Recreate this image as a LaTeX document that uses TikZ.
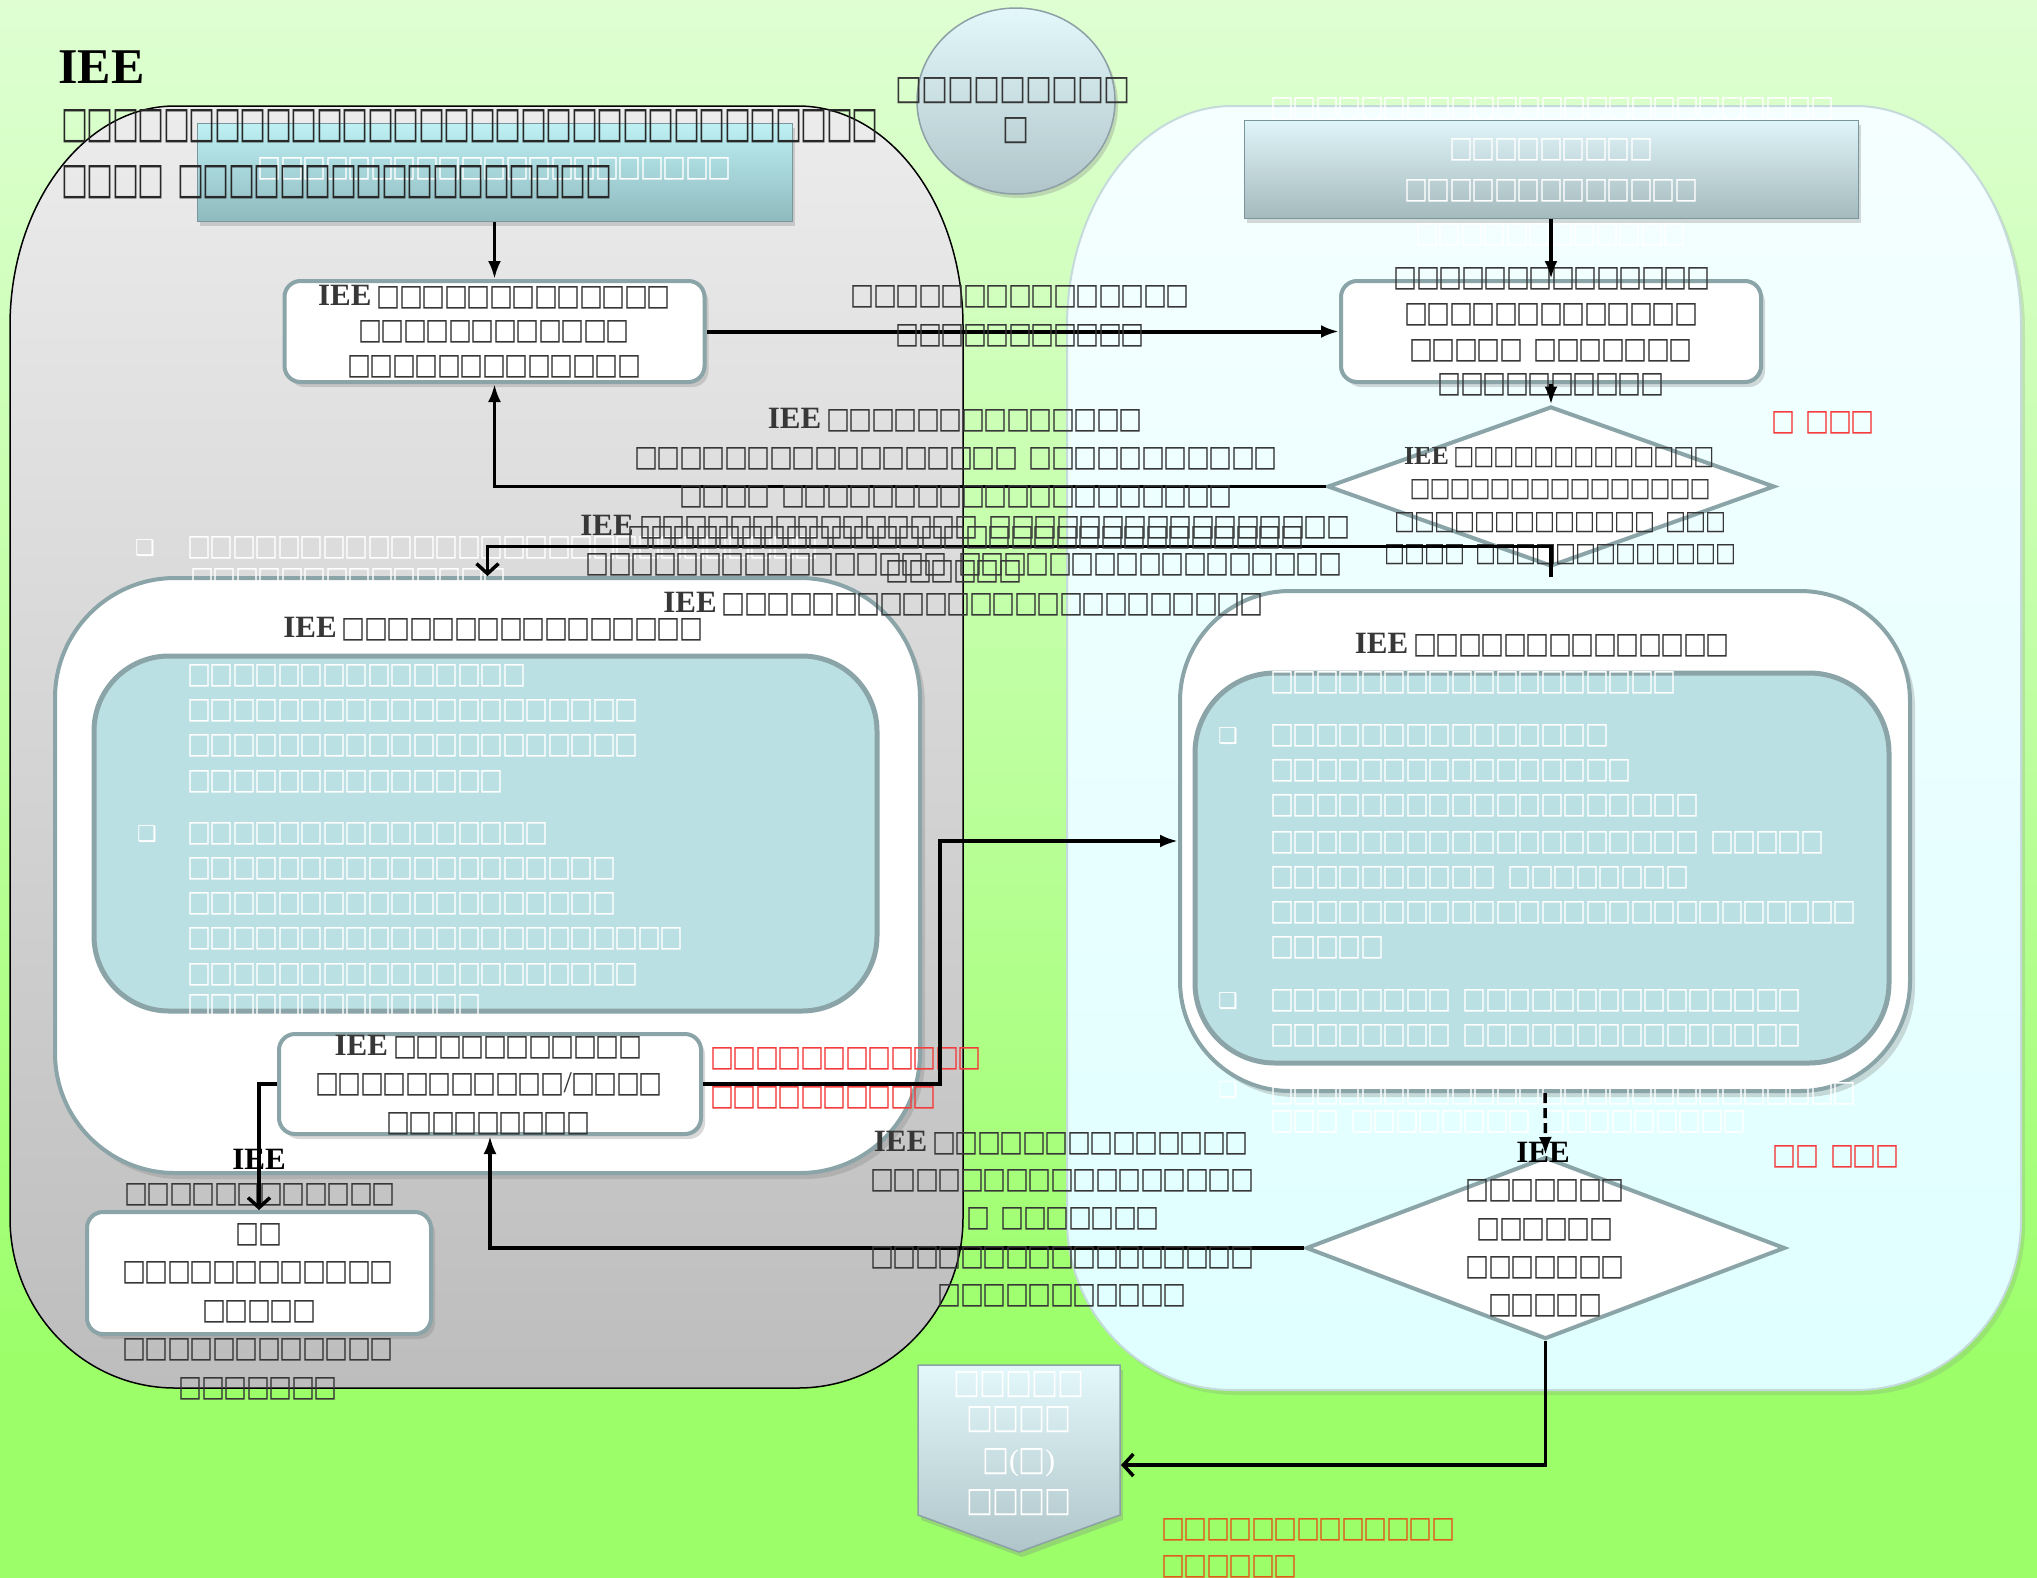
\documentclass[tikz,border=0pt]{standalone}
\usepackage{fontspec}
\setmainfont{Liberation Serif}
\newfontfamily\symf{DejaVu Sans}
\usepackage{graphicx}
\usetikzlibrary{arrows.meta,shapes.geometric,shadows}
\definecolor{dg}{RGB}{55,55,55}
\definecolor{tdark}{RGB}{40,40,40}
\definecolor{bd}{RGB}{138,164,168}
\definecolor{teal1}{RGB}{187,224,227}
\definecolor{redl}{RGB}{245,60,60}
\definecolor{orl}{RGB}{225,90,30}
\definecolor{gB}{RGB}{156,255,106}
\definecolor{gM}{RGB}{190,255,160}
\definecolor{gT}{RGB}{227,255,217}
\definecolor{pgT}{RGB}{236,236,236}
\definecolor{pgB}{RGB}{189,189,189}
\definecolor{pcT}{RGB}{245,255,255}
\definecolor{pcB}{RGB}{223,255,255}
\definecolor{pcD}{RGB}{197,218,218}
\definecolor{h1t}{RGB}{190,240,244}
\definecolor{h1b}{RGB}{143,186,190}
\definecolor{h2t}{RGB}{224,245,249}
\definecolor{h2b}{RGB}{165,186,189}
\definecolor{hbd}{RGB}{120,150,155}
\definecolor{cirt}{RGB}{226,248,251}
\definecolor{cirb}{RGB}{175,197,201}
\definecolor{cird}{RGB}{140,160,165}
\pgfdeclareverticalshading{bgsh}{100bp}{color(0bp)=(gB); color(32bp)=(gB); color(52bp)=(gM); color(78bp)=(gT); color(100bp)=(gT)}
\newlength\tfp\newlength\tfw\newlength\tfh
\newcommand\tfsize[3]{\setlength\tfp{#1pt}\setlength\tfw{#2pt}\setlength\tfh{#3pt}}
\newcommand\tfN{\tfsize{22.5}{24}{19}}
\newcommand\tfS{\tfsize{20}{21}{17}}
\newcommand\tfL{\tfsize{26}{27}{22}}
\newcommand\tfT{\tfsize{25.5}{27}{28}}
\newcommand\tofu[1]{\foreach\k in {1,...,#1}{\makebox[\tfp]{\resizebox{\tfw}{\tfh}{\symf □}}}}
\newcommand\tgap{\hspace*{0.55\tfp}}
\newcommand\IEE[1][31]{{\fontsize{#1pt}{#1pt}\selectfont\bfseries IEE}}
\newcommand\bul{{\symf\fontsize{22pt}{22pt}\selectfont ❑}}
\newcommand\slsh{{\fontsize{30pt}{30pt}\selectfont /}}
\begin{document}
\begin{tikzpicture}[x=1pt,y=-1pt,
  tx/.style={inner sep=0pt, text=dg, font=\tfN},
  wt/.style={inner sep=0pt, text=white, font=\tfN},
  rd/.style={inner sep=0pt, text=redl, font=\tfN},
  wbox/.style={draw=bd, line width=4pt, fill=white, rounded corners=16pt, inner sep=0pt, drop shadow={shadow xshift=4pt, shadow yshift=-5pt, opacity=0.3}},
  cont/.style={draw=bd, line width=4pt, fill=white, inner sep=0pt, drop shadow={shadow xshift=5pt, shadow yshift=-6pt, opacity=0.3}},
  tealbox/.style={draw=bd, line width=5pt, fill=teal1, inner sep=0pt},
  dia/.style={diamond, draw=bd, line width=4pt, fill=white, inner sep=0pt},
  conn/.style={line width=3.5pt, draw=black},
  fa/.style={-{Latex[length=18pt,width=13pt]}},
  oa/.style={-{Straight Barb[length=10pt,width=22pt]}}]
\useasboundingbox (0,0) rectangle (2037,1577);
\shade[shading=bgsh] (0,0) rectangle (2037,1577);
% panels
\shade[top color=pgT, bottom color=pgB, draw=black, line width=1.5pt]
 (10,326) .. controls (10,204.5) and (83.9,106) .. (175,106) -- (798,106) .. controls (889.1,106) and (963,204.5) .. (963,326) -- (963,1218) .. controls (963,1311.9) and (889.1,1388) .. (798,1388) -- (175,1388) .. controls (83.9,1388) and (10,1311.9) .. (10,1218) -- cycle;
\path[drop shadow={shadow xshift=4pt, shadow yshift=-5pt, opacity=0.2}, top color=pcT, bottom color=pcB, draw=pcD, line width=2pt]
 (1067,326) .. controls (1067,204.5) and (1140.9,106) .. (1232,106) -- (1856,106) .. controls (1947.1,106) and (2021,204.5) .. (2021,326) -- (2021,1220) .. controls (2021,1313.9) and (1947.1,1390) .. (1856,1390) -- (1232,1390) .. controls (1140.9,1390) and (1067,1313.9) .. (1067,1220) -- cycle;
% circle
\node[ellipse, draw=cird, line width=1.5pt, top color=cirt, bottom color=cirb, minimum width=198pt, minimum height=186pt, drop shadow={shadow xshift=3pt, shadow yshift=-4pt, opacity=0.3}] (circ) at (1016,101) {};
\node[tx, font=\tfL] (circ1) at (1013,91) {\tofu{9}};
\node[tx, font=\tfL] (circ2) at (1016,131) {\tofu{1}};
% headers
\node[draw=hbd, line width=1pt, top color=h1t, bottom color=h1b, minimum width=595pt, minimum height=98pt, drop shadow={shadow xshift=3pt, shadow yshift=-5pt, opacity=0.3}] (lh) at (494.5,172) {};
\node[wt] (lht) at (494.5,169) {\tofu{21}};
\node[draw=hbd, line width=1pt, top color=h2t, bottom color=h2b, minimum width=614pt, minimum height=98pt, drop shadow={shadow xshift=3pt, shadow yshift=-5pt, opacity=0.3}] (rh) at (1551,169) {};
\node[wt] (rht0) at (1552,109) {\tofu{25}};
\node[wt] (rht1) at (1551,150) {\tofu{9}};
\node[wt] (rht2) at (1551,191) {\tofu{13}};
\node[wt] (rht3) at (1551,235) {\tofu{12}};
% title
\node[inner sep=0pt, anchor=west, text=black] (ttl) at (58,67) {\IEE[50]};
\node[tx, text=tdark, font=\tfT, anchor=west] (ttl1) at (62,126) {\tofu{32}};
\node[tx, text=tdark, font=\tfT, anchor=west] (ttl2) at (62,182) {\tofu{4}\tgap\tofu{17}};
% node A and B
\node[wbox, minimum width=420pt, minimum height=101pt] (A) at (494.5,331.5) {};
\node[tx] (A1) at (494,297) {\IEE\hspace{6pt}\tofu{13}};
\node[tx] (A2) at (494,332) {\tofu{12}};
\node[tx] (A3) at (494,367) {\tofu{13}};
\node[wbox, minimum width=420pt, minimum height=101pt] (B) at (1551,331.5) {};
\node[tx] (B1) at (1552,279) {\tofu{14}};
\node[tx] (B2) at (1551,315) {\tofu{13}};
\node[tx] (B3) at (1551,351) {\tofu{5}\tgap\tofu{7}};
\node[tx] (B4) at (1551,385) {\tofu{10}};
% diamond 1
\node[dia, minimum width=447pt, minimum height=160pt] (d1) at (1551,486.5) {};
\node[tx, font=\tfS] (d1a) at (1559,458) {\IEE[26]\hspace{5pt}\tofu{13}};
\node[tx, font=\tfS] (d1b) at (1560,490) {\tofu{15}};
\node[tx, font=\tfS] (d1c) at (1560,523) {\tofu{13}\tgap\tofu{3}};
\node[tx, font=\tfS] (d1d) at (1560,555) {\tofu{4}\tgap\tofu{13}};
\node[rd] (r1) at (1823,423) {\tofu{1}\tgap\tofu{3}};
% left container
\node[cont, rounded corners=120pt, minimum width=865pt, minimum height=595pt] (LC) at (487.5,875.5) {};
\node[tx] (LCt) at (493,629) {\IEE\hspace{6pt}\tofu{16}};
\node[tealbox, rounded corners=75pt, minimum width=783pt, minimum height=355pt] (LT) at (485.5,833.5) {};
\node[wt, anchor=west] (L1) at (188,676) {\tofu{15}};
\node[wt, anchor=west] (L2) at (188,711) {\tofu{20}};
\node[wt, anchor=west] (L3) at (188,746) {\tofu{20}};
\node[wt, anchor=west] (L4) at (188,782) {\tofu{14}};
\node[inner sep=0pt, text=white] (Lb2) at (147,834) {\bul};
\node[wt, anchor=west] (L5) at (188,834) {\tofu{16}};
\node[wt, anchor=west] (L6) at (188,869) {\tofu{19}};
\node[wt, anchor=west] (L7) at (188,904) {\tofu{19}};
\node[wt, anchor=west] (L8) at (188,939) {\tofu{22}};
\node[wt, anchor=west] (L9) at (188,975) {\tofu{20}};
\node[wt, anchor=west] (L10) at (188,1006) {\tofu{13}};
\node[inner sep=0pt, text=white] (Lb1) at (145,548) {\bul};
\node[wt, anchor=west] (L0a) at (188,548) {\tofu{28}};
\node[wt, anchor=west] (L0b) at (191,580) {\tofu{14}};
% node C and D
\node[wbox, minimum width=422pt, minimum height=100pt] (C) at (490,1084) {};
\node[tx] (C1) at (488,1047) {\IEE\hspace{6pt}\tofu{11}};
\node[tx] (C2) at (489,1084) {\tofu{11}\slsh\tofu{4}};
\node[tx] (C3) at (488,1124) {\tofu{9}};
\node[rd, anchor=west] (rc1) at (711,1059) {\tofu{12}};
\node[rd, anchor=west] (rc2) at (711,1098) {\tofu{10}};
\node[wbox, minimum width=344pt, minimum height=122pt] (D) at (259,1273) {};
\node[tx] (D1) at (259,1235) {\tofu{2}};
\node[tx] (D2) at (258,1273) {\tofu{12}};
\node[tx] (D3) at (259,1312) {\tofu{5}};
\node[tx] (D4) at (258,1350) {\tofu{12}};
\node[tx] (D5) at (258,1389) {\tofu{7}};
\node[inner sep=0pt] (Di) at (259,1159) {\IEE};
\node[tx] (Dl) at (260,1195) {\tofu{12}};
% right container
\node[cont, rounded corners=110pt, minimum width=730pt, minimum height=500pt] (RC) at (1545,841) {};
\node[tx] (RCt) at (1542,645) {\IEE\hspace{6pt}\tofu{14}};
\node[tealbox, rounded corners=80pt, minimum width=694pt, minimum height=390pt] (RT) at (1542,868) {};
\node[wt, anchor=west] (R0) at (1271,683) {\tofu{18}};
\node[inner sep=0pt, text=white] (Rb1) at (1228,736) {\bul};
\node[wt, anchor=west] (R1) at (1271,736) {\tofu{15}};
\node[wt, anchor=west] (R2) at (1271,771) {\tofu{16}};
\node[wt, anchor=west] (R3) at (1271,806) {\tofu{19}};
\node[wt, anchor=west] (R4) at (1271,843) {\tofu{19}\tgap\tofu{5}};
\node[wt, anchor=west] (R5) at (1271,878) {\tofu{10}\tgap\tofu{8}};
\node[wt, anchor=west] (R6) at (1271,913) {\tofu{26}};
\node[wt, anchor=west] (R7) at (1271,948) {\tofu{5}};
\node[inner sep=0pt, text=white] (Rb2) at (1228,1001) {\bul};
\node[wt, anchor=west] (R8) at (1271,1001) {\tofu{8}\tgap\tofu{15}};
\node[wt, anchor=west] (R9) at (1271,1036) {\tofu{8}\tgap\tofu{15}};
\node[inner sep=0pt, text=white] (Rb3) at (1228,1090) {\bul};
\node[wt, anchor=west] (R10) at (1271,1094) {\tofu{26}};
\node[wt, anchor=west] (R11) at (1271,1122) {\tofu{3}\tgap\tofu{8}\tgap\tofu{9}};
% diamond 2
\node[dia, minimum width=479pt, minimum height=182pt] (d2) at (1545.5,1248) {};
\node[tx] (d2a) at (1545,1191) {\tofu{7}};
\node[tx] (d2b) at (1545,1230) {\tofu{6}};
\node[tx] (d2c) at (1545,1268) {\tofu{7}};
\node[tx] (d2d) at (1545,1306) {\tofu{5}};
\node[rd] (r2) at (1836,1157) {\tofu{2}\tgap\tofu{3}};
% chevron
\path[draw=cird, line width=1.5pt, top color=cirt, bottom color=cirb, drop shadow={shadow xshift=3pt, shadow yshift=-5pt, opacity=0.3}]
 (918,1365) -- (1120,1365) -- (1120,1515) -- (1019,1552) -- (918,1515) -- cycle;
\coordinate (E) at (1121,1465);
\node[wt, font=\tfL] (e1) at (1019,1385) {\tofu{5}};
\node[wt, font=\tfL] (e2) at (1019,1420) {\tofu{4}};
\node[wt, font=\tfL] (e3) at (1019,1463) {\tofu{1}{\fontsize{30pt}{30pt}\selectfont(}\tofu{1}{\fontsize{30pt}{30pt}\selectfont)}};
\node[wt, font=\tfL] (e4) at (1019,1503) {\tofu{4}};
\node[inner sep=0pt, text=orl, font=\tfN, anchor=west] (o1) at (1162,1530) {\tofu{13}};
\node[inner sep=0pt, text=orl, font=\tfN, anchor=west] (o2) at (1162,1567) {\tofu{6}};
% connectors
\draw[conn, fa] (lh.south) -- (A.north);
\draw[conn, fa] (rh.south) -- (B.north);
\draw[conn, fa] (B.south) -- (d1.north);
\draw[conn, fa, line width=4pt] (A.east) -- (B.west);
\draw[conn, fa] (d1.west) -| (A.south);
\draw[conn, oa] ([yshift=-8pt]d1.south) -- ++(0,-30) -| (LC.north);
\draw[conn, fa] (C.east) -- ++(237,0) |- (RC.west);
\draw[conn, oa] (C.west) -| (D.north);
\draw[conn, fa, dash pattern=on 10pt off 5pt] (RC.south) -- (d2.north);
\draw[conn, fa] (d2.west) -| (C.south);
\draw[conn, oa] (d2.south) |- (E);
\node[inner sep=0pt] (d2i) at (1543,1152) {\IEE};
% connector labels
\node[tx] (la1) at (1020,297) {\tofu{15}};
\node[tx] (la2) at (1020,336) {\tofu{11}};
\node[tx] (lb1) at (955,420) {\IEE\hspace{6pt}\tofu{14}};
\node[tx] (lb2) at (956,459) {\tofu{17}\tgap\tofu{11}};
\node[tx] (lb3) at (956,497) {\tofu{4}\tgap\tofu{20}};
\node[tx] (lc1) at (965,527) {\IEE\hspace{6pt}\tofu{15}\tgap\tofu{16}};
\node[tx] (lc2) at (966,538) {\tofu{30}};
\node[tx] (lc3) at (964,565) {\tofu{16}\tgap\tofu{17}};
\node[tx] (lc4) at (954,572) {\tofu{6}};
\node[tx] (lc5) at (963,604) {\IEE\hspace{6pt}\tofu{24}};
\node[tx] (ld1) at (1061,1143) {\IEE\hspace{6pt}\tofu{14}};
\node[tx] (ld2) at (1062,1181) {\tofu{17}};
\node[tx] (ld3) at (1063,1219) {\tofu{1}\tgap\tofu{7}};
\node[tx] (ld4) at (1062,1258) {\tofu{17}};
\node[tx] (ld5) at (1062,1296) {\tofu{11}};
\end{tikzpicture}
\end{document}
